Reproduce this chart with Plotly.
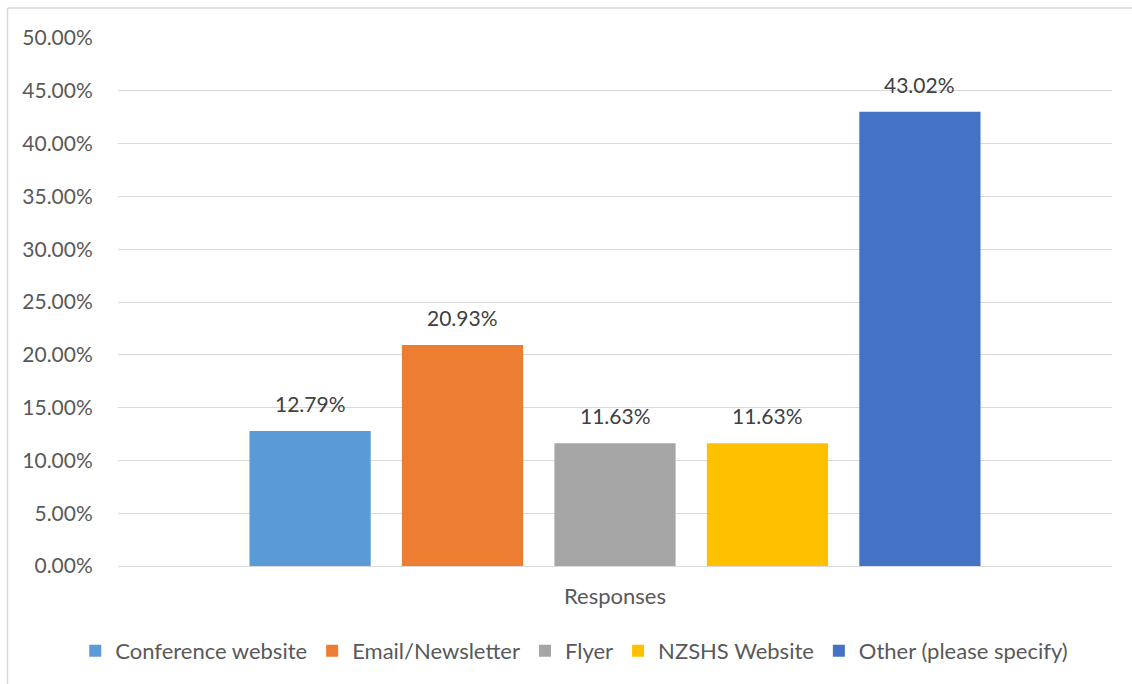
import plotly.graph_objects as go

categories = ["Conference website", "Email/Newsletter", "Flyer", "NZSHS Website", "Other (please specify)"]
values = [12.79, 20.93, 11.63, 11.63, 43.02]
colors = ["#5B9BD5", "#ED7D31", "#A5A5A5", "#FFC000", "#4472C4"]
group_label = "Responses"
y_ticks = [0, 5, 10, 15, 20, 25, 30, 35, 40, 45, 50]

FONT = "Lato, 'Liberation Sans', sans-serif"

fig = go.Figure()
positions = list(range(len(categories)))
for i, (cat, val, col) in enumerate(zip(categories, values, colors)):
    fig.add_trace(go.Bar(
        x=[positions[i]], y=[val], name=cat, marker=dict(color=col, line=dict(width=0)),
        width=0.795, hoverinfo="name+y",
    ))
    fig.add_annotation(
        x=positions[i], y=val, text=f"{val:.2f}%", xref="x", yref="y",
        yanchor="bottom", yshift=13, showarrow=False,
        font=dict(family=FONT, size=21, color="#404040"),
    )

center = (positions[0] + positions[-1]) / 2
border = dict(color="#D9D9D9", width=1.5)
fig.update_layout(
    width=1132, height=684,
    margin=dict(l=118, r=20, t=38, b=118),
    paper_bgcolor="white", plot_bgcolor="white",
    barmode="overlay",
    font=dict(family=FONT, size=21, color="#595959"),
    showlegend=True,
    legend=dict(orientation="h", x=0.459, xanchor="center", y=-0.161, yanchor="middle",
                font=dict(family=FONT, size=22, color="#595959"),
                itemclick=False, traceorder="normal", itemwidth=30),
    xaxis=dict(range=[center - 3.26, center + 3.26], tickvals=[center], ticktext=[group_label],
               showgrid=False, zeroline=False, showline=False,
               ticks="outside", ticklen=11, tickcolor="rgba(0,0,0,0)",
               tickfont=dict(family=FONT, size=22, color="#595959")),
    yaxis=dict(range=[0, 50], tickvals=y_ticks, ticktext=[f"{v:.2f}%" for v in y_ticks],
               showgrid=True, gridcolor="#D9D9D9", gridwidth=1.3,
               zeroline=True, zerolinecolor="#D9D9D9", zerolinewidth=1.3,
               showline=False, ticks="outside", ticklen=20, tickcolor="rgba(0,0,0,0)",
               tickfont=dict(family=FONT, size=21, color="#595959")),
    shapes=[
        dict(type="line", xref="paper", yref="paper", x0=-0.1112, x1=1.3, y0=1.0568, y1=1.0568,
             line=border, layer="below"),
        dict(type="line", xref="paper", yref="paper", x0=-0.1112, x1=-0.1112, y0=-0.4, y1=1.0568,
             line=border, layer="below"),
    ],
)

fig.write_html(
    "out.html",
    config={"displayModeBar": False},
    post_script="document.body.style.margin='0';document.body.style.overflow='hidden';",
)
